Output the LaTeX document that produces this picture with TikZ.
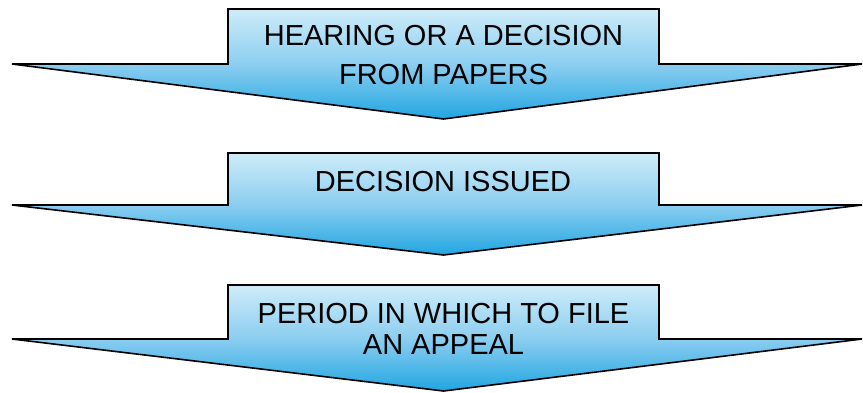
\documentclass[tikz,border=0pt]{standalone}
\usepackage{fontspec}
\setmainfont{Liberation Sans}
\usetikzlibrary{positioning}

\definecolor{bannerPale}{RGB}{206,236,249}
\definecolor{bannerMid}{RGB}{140,206,240}
\definecolor{bannerDeep}{RGB}{33,166,225}
\pgfdeclareverticalshading{bannershade}{100bp}{%
  color(0bp)=(bannerDeep); color(25bp)=(bannerDeep);
  color(50bp)=(bannerMid); color(75bp)=(bannerPale);
  color(100bp)=(bannerPale)}

\begin{document}
\begin{tikzpicture}[
  x=1pt, y=-1pt,
  banner/.style={draw=black, line width=1.6pt, line join=miter, shading=bannershade},
  caption/.style={align=center, inner sep=0pt, text=black},
  every node/.style={font=\fontsize{29}{39}\selectfont}
]
\useasboundingbox (0,0) rectangle (863,392);

% ==========================================================
% Arrow shapes
% ==========================================================
\draw[banner] (228,9) -- (659,9) -- (659,64) -- (862,64) -- (443.5,119)
  -- (12,64) -- (228,64) -- cycle;
\draw[banner] (228,153) -- (659,153) -- (659,205) -- (862,205) -- (443.5,255)
  -- (12,205) -- (228,205) -- cycle;
\draw[banner] (228,285) -- (659,285) -- (659,339) -- (862,339) -- (443.5,391)
  -- (12,339) -- (228,339) -- cycle;

% ==========================================================
% Captions
% ==========================================================
\node[caption] (Hearing) at (443.5,55.5) {HEARING OR A DECISION\\FROM PAPERS};
\node[caption] (Issued) at (443,181.5) {DECISION ISSUED};
\node[caption, font=\fontsize{29}{31}\selectfont] (Appeal) at (443.5,328.5)
  {PERIOD IN WHICH TO FILE\\AN APPEAL};

\end{tikzpicture}
\end{document}
